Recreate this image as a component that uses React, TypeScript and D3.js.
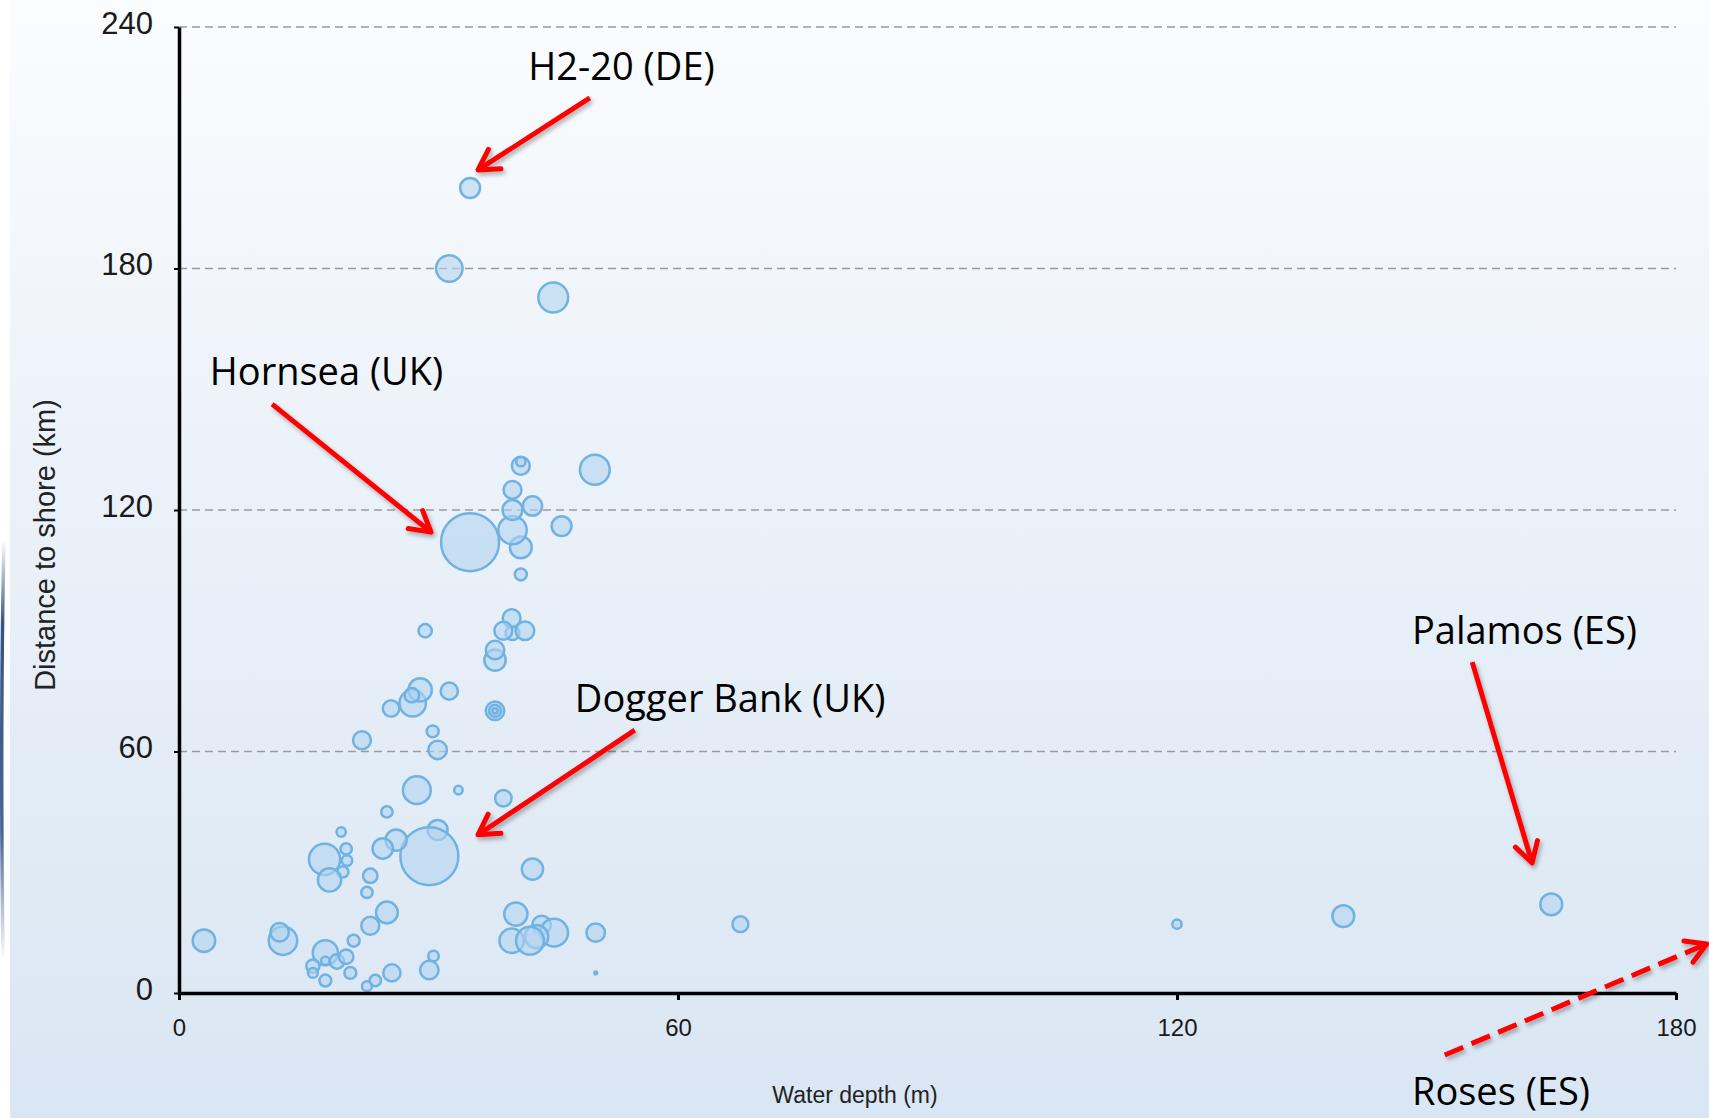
import React, { useRef, useEffect } from 'react';
import * as d3 from 'd3';

const W = 1709;
const H = 1118;
const margin = { top: 27, right: 33, bottom: 125, left: 179 };

// wind farms: water depth (m), distance to shore (km), capacity (MW)
const waterDepth = [
  35.0, 32.5, 45.0, 41.1, 41.1, 50.0, 40.1, 42.5, 41.1, 40.1,
  40.1, 46.0, 41.1, 35.0, 29.6, 40.1, 40.0, 39.0, 41.6, 38.0,
  38.0, 28.1, 29.0, 28.0, 25.5, 32.5, 38.0, 38.0, 38.0, 30.5,
  31.1, 22.0, 28.6, 33.6, 39.0, 25.0, 19.5, 31.1, 30.1, 26.1,
  24.5, 17.5, 20.1, 20.2, 19.7, 18.1, 23.0, 22.6, 25.0, 23.0,
  21.0, 3.0, 12.5, 12.1, 17.6, 17.6, 19.0, 20.1, 16.1, 16.1,
  17.6, 20.6, 23.6, 22.6, 25.6, 30.6, 30.1, 42.5, 40.5, 43.6,
  45.1, 43.0, 40.0, 42.2, 50.1, 50.1, 67.5, 120.0, 140.0, 165.0,
];
const distanceToShore = [
  200, 180, 172.8, 131, 132, 130, 125, 121, 110.7, 115,
  120, 116, 104, 112, 90, 89.4, 93.1, 90, 90, 82.7,
  85.2, 72, 75.3, 74, 70.7, 75, 70.1, 70.1, 70.1, 65,
  60.4, 62.8, 50.4, 50.4, 48.4, 45, 40, 40.5, 34, 38,
  35.9, 33.2, 35.8, 32.9, 30.1, 28.1, 29.1, 25, 20, 16.7,
  13, 13, 13, 15.1, 10, 8, 7.8, 9, 6.7, 5,
  3.1, 5, 3.1, 1.7, 5, 9.2, 5.7, 30.8, 19.6, 16.9,
  15, 14, 13, 13, 15, 5, 17.1, 17.1, 19.1, 22,
];
const capacityMW = [
  141, 249, 317, 114, 31, 317, 114, 132, 170, 288,
  141, 141, 51, 1200, 63, 69, 114, 114, 122, 161,
  122, 249, 193, 75, 97, 106, 122, 51, 10, 51,
  122, 114, 276, 26, 97, 46, 31, 141, 1200, 161,
  149, 347, 46, 40, 46, 193, 75, 46, 170, 114,
  51, 180, 288, 122, 227, 26, 75, 75, 63, 35,
  51, 51, 46, 35, 106, 40, 122, 161, 193, 122,
  276, 193, 213, 276, 122, 2.4, 90, 31, 170, 170,
];

const xTicks = [0, 60, 120, 180];
const yTicks = [0, 60, 120, 180, 240];
const gridTicks = [60, 120, 180, 240];

// callouts, positioned in data units
const calloutLabels = ['H2-20 (DE)', 'Hornsea (UK)', 'Dogger Bank (UK)', 'Palamos (ES)', 'Roses (ES)'];
const calloutText = [[42.0, 226.8], [3.7, 151.1], [47.6, 69.8], [148.25, 86.7], [148.25, -27.8]];
const arrowFrom = [[49.4, 222.4], [11.2, 146.3], [54.8, 65.3], [155.5, 82.2], [152.2, -15.4]];
const arrowTo = [[35.95, 204.5], [30.3, 114.5], [35.95, 39.3], [162.7, 32.3], [183.7, 12.2]];
const arrowDashed = [false, false, false, false, true];

const headPath = (x1: number, y1: number, x2: number, y2: number) => {
  const a = Math.atan2(y1 - y2, x1 - x2);
  const len = 23, spread = Math.PI / 6;
  const p1 = [x2 + len * Math.cos(a + spread), y2 + len * Math.sin(a + spread)];
  const p2 = [x2 + len * Math.cos(a - spread), y2 + len * Math.sin(a - spread)];
  return `M${p1[0]},${p1[1]}L${x2},${y2}L${p2[0]},${p2[1]}`;
};

export default function App() {
  const ref = useRef<SVGSVGElement>(null);

  const x = d3.scaleLinear().domain([0, 180]).range([margin.left, W - margin.right]);
  const y = d3.scaleLinear().domain([0, 240]).range([H - margin.bottom, margin.top]);
  const r = d3.scaleSqrt().domain([0, 1200]).range([0, 29]);

  const points = d3.range(waterDepth.length).map(i => ({
    depth: waterDepth[i],
    dist: distanceToShore[i],
    cap: capacityMW[i],
  }));

  useEffect(() => {
    if (!ref.current) return;
    const svg = d3.select(ref.current);

    const gx = svg.select<SVGGElement>('g.axis-x')
      .attr('transform', `translate(0,${y(0)})`)
      .call(d3.axisBottom(x).tickValues(xTicks).tickSize(7).tickSizeOuter(0).tickPadding(19));
    gx.select('.domain').attr('stroke', '#000').attr('stroke-width', 3.5);
    gx.selectAll('.tick line').attr('stroke', '#000').attr('stroke-width', 3);
    gx.selectAll('.tick text')
      .attr('font-family', '"Liberation Sans", Arial, sans-serif')
      .attr('font-size', 24)
      .attr('fill', '#1a1a1a');

    const gy = svg.select<SVGGElement>('g.axis-y')
      .attr('transform', `translate(${x(0)},0)`)
      .call(d3.axisLeft(y).tickValues(yTicks).tickSize(5).tickSizeOuter(0).tickPadding(21));
    gy.select('.domain').attr('stroke', '#000').attr('stroke-width', 3.5);
    gy.selectAll('.tick line').attr('stroke', '#000').attr('stroke-width', 2);
    gy.selectAll('.tick text')
      .attr('font-family', '"Liberation Sans", Arial, sans-serif')
      .attr('font-size', 31)
      .attr('dy', '0.2em')
      .attr('fill', '#1a1a1a');
  }, []);

  return (
    <>
      <style>{`body{margin:0}`}</style>
      <svg ref={ref} width={W} height={H} style={{ display: 'block' }}>
        <defs>
          <linearGradient id="panel" x1="0" y1="0" x2="0" y2="1">
            <stop offset="0" stopColor="#fbfcfe" />
            <stop offset="0.4" stopColor="#ecf2f9" />
            <stop offset="1" stopColor="#d9e6f3" />
          </linearGradient>
          <linearGradient id="edge" x1="0" y1="0" x2="0" y2="1">
            <stop offset="0" stopColor="#2c4a80" stopOpacity="0" />
            <stop offset="0.2" stopColor="#2c4a80" stopOpacity="0.95" />
            <stop offset="0.7" stopColor="#2c4a80" stopOpacity="0.85" />
            <stop offset="1" stopColor="#2c4a80" stopOpacity="0" />
          </linearGradient>
          <filter id="shadow" x="-20%" y="-20%" width="140%" height="140%">
            <feDropShadow dx="2" dy="3" stdDeviation="2" floodColor="#000" floodOpacity="0.3" />
          </filter>
        </defs>

        <rect width={W} height={H} fill="#ffffff" />
        <rect x={10} y={0} width={W - 10} height={H} fill="url(#panel)" />
        <path d="M4,540 Q0,720 3,960" fill="none" stroke="url(#edge)" strokeWidth={3.5} />

        <g className="grid">
          {gridTicks.map(t => (
            <line key={t} x1={x(0)} x2={x(180)} y1={y(t)} y2={y(t)}
              stroke="#9a9a9a" strokeWidth={1.5} strokeDasharray="8 5" />
          ))}
        </g>

        <g className="bubbles">
          {points.map((p, i) => (
            <circle key={i} cx={x(p.depth)} cy={y(p.dist)} r={r(p.cap)}
              fill="#b3d4f0" fillOpacity={0.6} stroke="#70b2e2" strokeWidth={2.5} />
          ))}
        </g>

        <g className="axis-x" />
        <g className="axis-y" />

        <text x={855} y={1103} textAnchor="middle" fontFamily='"Liberation Sans", Arial, sans-serif'
          fontSize={23} fill="#222">Water depth (m)</text>
        <text transform={`translate(55,545) rotate(-90)`} textAnchor="middle"
          fontFamily='"Liberation Sans", Arial, sans-serif' fontSize={29} fill="#222">Distance to shore (km)</text>

        <g className="callouts">
          {calloutLabels.map((label, i) => {
            const x1 = x(arrowFrom[i][0]), y1 = y(arrowFrom[i][1]);
            const x2 = x(arrowTo[i][0]), y2 = y(arrowTo[i][1]);
            return (
              <g key={label}>
                <text x={x(calloutText[i][0])} y={y(calloutText[i][1])}
                  fontFamily='"Open Sans", "Noto Sans", sans-serif' fontSize={38} fontWeight={500} fill="#000">{label}</text>
                <g filter="url(#shadow)">
                  <line x1={x1} y1={y1} x2={x2} y2={y2} stroke="#ff0000" strokeWidth={5}
                    strokeDasharray={arrowDashed[i] ? '20 9' : undefined} />
                  <path d={headPath(x1, y1, x2, y2)} fill="none" stroke="#ff0000" strokeWidth={5}
                    strokeLinecap="round" strokeLinejoin="round" />
                </g>
              </g>
            );
          })}
        </g>
      </svg>
    </>
  );
}
